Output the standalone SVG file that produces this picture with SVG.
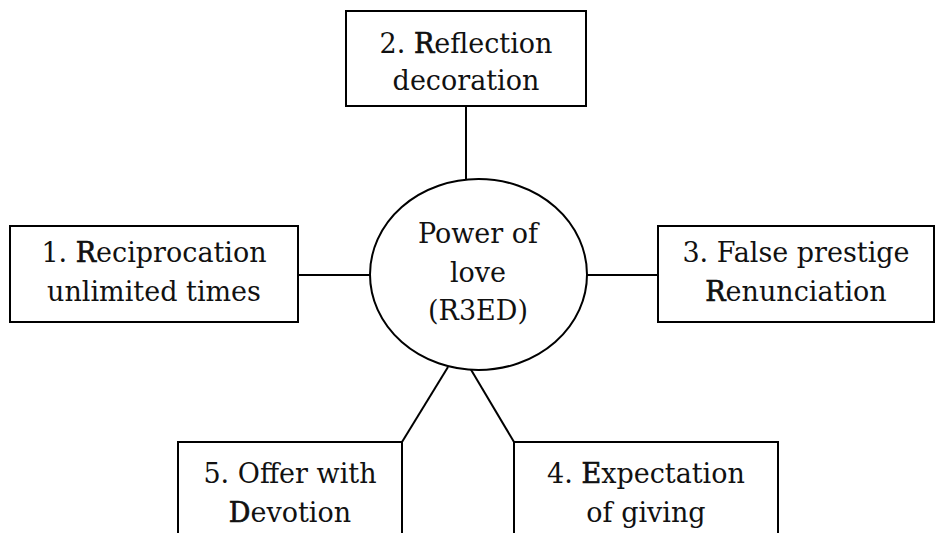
<svg xmlns="http://www.w3.org/2000/svg" width="936" height="533" viewBox="0 0 936 533">
  <style>
    .box { fill: #ffffff; stroke: #000000; stroke-width: 2; }
    .hub { fill: #ffffff; stroke: #000000; stroke-width: 2; }
    .link { stroke: #000000; stroke-width: 2; fill: none; }
    text { font-family: 'DejaVu Serif', 'Liberation Serif', serif; font-size: 27px; fill: #111111; text-anchor: middle; }
    .key { stroke: #111111; stroke-width: 0.7; }
  </style>

  <!-- connectors between the hub and the five boxes -->
  <g id="connectors">
    <line class="link" x1="466" y1="106" x2="466" y2="180"/>
    <line class="link" x1="298" y1="275" x2="370" y2="275"/>
    <line class="link" x1="587" y1="275" x2="658" y2="275"/>
    <line class="link" x1="448" y1="367" x2="402" y2="442"/>
    <line class="link" x1="470" y1="368" x2="514" y2="442"/>
  </g>

  <g id="hub">
    <ellipse class="hub" cx="478.5" cy="274.5" rx="108.5" ry="95.5"/>
    <text x="478" y="243">Power of</text>
    <text x="478" y="282">love</text>
    <text x="478" y="320">(R3ED)</text>
  </g>

  <g id="node-1">
    <rect class="box" x="10" y="226" width="288" height="96"/>
    <text x="154" y="262">1. <tspan class="key">R</tspan>eciprocation</text>
    <text x="154" y="301">unlimited times</text>
  </g>

  <g id="node-2">
    <rect class="box" x="346" y="11" width="240" height="95"/>
    <text x="466" y="53">2. <tspan class="key">R</tspan>eflection</text>
    <text x="466" y="90">decoration</text>
  </g>

  <g id="node-3">
    <rect class="box" x="658" y="226" width="276" height="96"/>
    <text x="796" y="262">3. False prestige</text>
    <text x="796" y="301"><tspan class="key">R</tspan>enunciation</text>
  </g>

  <g id="node-4">
    <rect class="box" x="514" y="442" width="264" height="110"/>
    <text x="646" y="483">4. <tspan class="key">E</tspan>xpectation</text>
    <text x="646" y="522">of giving</text>
  </g>

  <g id="node-5">
    <rect class="box" x="178" y="442" width="224" height="110"/>
    <text x="290" y="483">5. Offer with</text>
    <text x="290" y="522"><tspan class="key">D</tspan>evotion</text>
  </g>
</svg>
